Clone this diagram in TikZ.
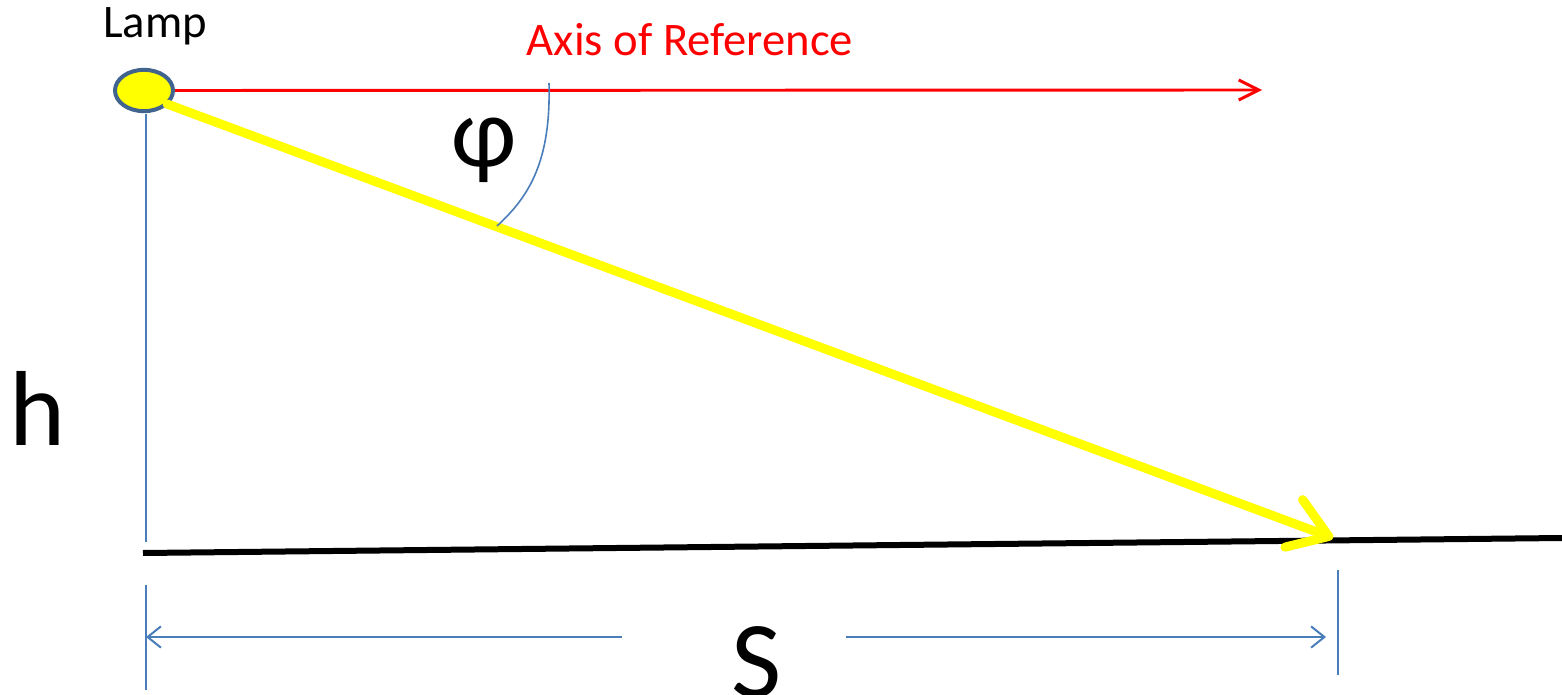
\documentclass[tikz,border=0pt]{standalone}
\usepackage{fontspec}
\setmainfont{Carlito}
\usetikzlibrary{arrows.meta,shapes.geometric}
\definecolor{lampedge}{HTML}{41648F}
\definecolor{dimblue}{HTML}{4A7EBB}
\definecolor{rayyellow}{HTML}{FFFF00}
\tikzset{
  lbl/.style={inner sep=0pt, text=black},
  dimline/.style={draw=dimblue, line width=1.5pt},
  tickline/.style={draw=dimblue, line width=1.6pt},
}
\begin{document}
\begin{tikzpicture}[x=0.75pt,y=-0.75pt]
\useasboundingbox (0,0) rectangle (1562,695);
% lamp
\node[ellipse, draw=lampedge, line width=3pt, fill=rayyellow, minimum width=43.5pt, minimum height=31pt, inner sep=0pt] (lamp) at (144,90.5) {};
\node[lbl, font=\fontsize{35}{40}\selectfont] (lamplbl) at (155,26) {Lamp};
% axis of reference
\coordinate (axend) at (1262,90);
\draw[red, line width=2.2pt, -{Straight Barb[length=15pt,width=15pt,line width=2.2pt]}] (lamp.east) -- (axend);
\node[lbl, text=red, font=\fontsize{35}{40}\selectfont] (axlbl) at (690,40) {Axis of Reference};
% vertical height line
\coordinate (vtop) at (146,114);
\coordinate (vbot) at (146,542);
\draw[draw=dimblue, line width=0.9pt] (vtop) -- (vbot);
% ground
\coordinate (g1) at (143,553);
\coordinate (g2) at (1562,538);
\draw[black, line width=4.5pt] (g1) -- (g2);
% light ray
\coordinate (rs) at (167,104);
\coordinate (re) at (1333,538);
\draw[rayyellow, line width=6.8pt, line cap=round, -{Straight Barb[length=28pt,width=38pt,line width=6.8pt,round]}] (rs) -- (re);
% angle arc
\coordinate (a1) at (549,83);
\coordinate (a2) at (497,226);
\draw[dimblue, line width=1.2pt] (a1) .. controls (551,160) and (530,196) .. (a2);
\node[lbl, font=\fontsize{75}{80}\selectfont] (phi) at (484,150) {φ};
% h label
\node[lbl, font=\fontsize{80}{90}\selectfont] (hlbl) at (38,408) {h};
% dimension S
\coordinate (t1a) at (146,585);
\coordinate (t1b) at (146,690);
\coordinate (t2a) at (1338,570);
\coordinate (t2b) at (1338,675);
\draw[tickline] (t1a) -- (t1b);
\draw[tickline] (t2a) -- (t2b);
\coordinate (d1) at (146,637);
\coordinate (d1m) at (622,637);
\coordinate (d2m) at (846,637);
\coordinate (d2) at (1326,637);
\draw[dimline, {Straight Barb[length=10pt,width=16pt,line width=1.5pt]}-] (d1) -- (d1m);
\draw[dimline, -{Straight Barb[length=10pt,width=16pt,line width=1.5pt]}] (d2m) -- (d2);
\node[lbl, font=\fontsize{82}{90}\selectfont] (slbl) at (757,662) {S};
\end{tikzpicture}
\end{document}
